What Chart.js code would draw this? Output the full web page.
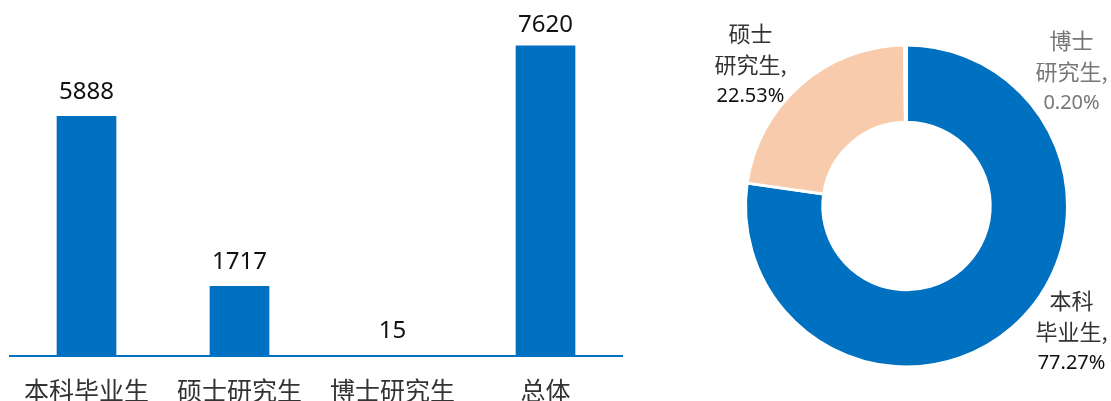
<!DOCTYPE html>
<html>
<head>
<meta charset="utf-8">
<script src="https://cdn.jsdelivr.net/npm/chart.js@4.4.0/dist/chart.umd.min.js"></script>
<style>
  html, body { margin: 0; padding: 0; background: #fff; overflow: hidden; }
  #bar { position: absolute; left: 0; top: 0; }
  #pie { position: absolute; left: 660px; top: 0; }
</style>
</head>
<body>
<canvas id="bar" width="640" height="424"></canvas>
<canvas id="pie" width="451" height="401"></canvas>
<script>
// bar chart data
const categories = ['本科毕业生', '硕士研究生', '博士研究生', '总体'];
const graduateCounts = [5888, 1717, 15, 7620];
const countAxisMax = 8000;

// doughnut data
const shareNames = [['本科', '毕业生,'], ['硕士', '研究生,'], ['博士', '研究生,']];
const sharePercents = [77.27, 22.53, 0.20];
const shareColors = ['#0070C0', '#F8CBAD', '#FFFFFF'];

const BLUE = '#0070C0';
const CJK = '"Noto Sans CJK SC", "Noto Sans", sans-serif';
const LATIN = '"Noto Sans", "Noto Sans CJK SC", sans-serif';

// numbers above each bar
const barValueLabels = {
    id: 'barValueLabels',
    afterDatasetsDraw(chart) {
        const { ctx, chartArea } = chart;
        const meta = chart.getDatasetMeta(0);
        ctx.save();
        ctx.font = '24px ' + LATIN;
        ctx.fillStyle = '#111';
        ctx.textAlign = 'center';
        ctx.textBaseline = 'alphabetic';
        meta.data.forEach((bar, i) => {
            // keep the tallest label inside the top of the plot
            const y = Math.max(bar.y - 17, chartArea.top + 2);
            ctx.fillText(String(graduateCounts[i]), bar.x, y);
        });
        ctx.restore();
    }
};

new Chart(document.getElementById('bar'), {
    type: 'bar',
    data: {
        labels: categories,
        datasets: [{
            data: graduateCounts,
            backgroundColor: BLUE,
            categoryPercentage: 1,
            barPercentage: 0.39
        }]
    },
    options: {
        responsive: false,
        animation: false,
        layout: { padding: { left: 10, right: 18, top: 30, bottom: 0 } },
        plugins: { legend: { display: false }, tooltip: { enabled: false } },
        scales: {
            x: {
                grid: { display: false, drawTicks: false },
                border: { display: true, color: BLUE, width: 2 },
                ticks: {
                    color: '#333',
                    padding: 19,
                    font: { family: CJK, size: 25, lineHeight: 1.2 }
                }
            },
            y: {
                display: false,
                min: 0,
                max: countAxisMax
            }
        }
    },
    plugins: [barValueLabels]
});

// label blocks around the ring, offsets in units of the outer radius
const labelAnchors = [[1.025, 0.783], [-0.969, -0.876], [1.025, -0.832]];
const nameColors = ['#333', '#333', '#777'];
const percentColors = ['#111', '#111', '#777'];

const ringLabels = {
    id: 'ringLabels',
    afterDatasetsDraw(chart) {
        const { ctx } = chart;
        const meta = chart.getDatasetMeta(0);
        const arc = meta.data[0];
        const cx = arc.x, cy = arc.y, r = arc.outerRadius;
        const lineGap = 31;
        ctx.save();
        ctx.textAlign = 'center';
        ctx.textBaseline = 'middle';
        sharePercents.forEach((pct, i) => {
            const ax = cx + labelAnchors[i][0] * r;
            const ay = cy + labelAnchors[i][1] * r;
            ctx.fillStyle = nameColors[i];
            ctx.font = '22px ' + CJK;
            ctx.fillText(shareNames[i][0], ax, ay - lineGap);
            ctx.fillText(shareNames[i][1], ax, ay);
            ctx.fillStyle = percentColors[i];
            ctx.font = '20px ' + LATIN;
            ctx.fillText(pct.toFixed(2) + '%', ax, ay + lineGap);
        });
        ctx.restore();
    }
};

new Chart(document.getElementById('pie'), {
    type: 'doughnut',
    data: {
        labels: shareNames.map(n => n.join('')),
        datasets: [{
            data: sharePercents,
            backgroundColor: shareColors,
            borderColor: '#fff',
            borderWidth: 3
        }]
    },
    options: {
        responsive: false,
        animation: false,
        cutout: '52%',
        layout: { padding: { left: 84, right: 42, top: 43.5, bottom: 32.5 } },
        plugins: { legend: { display: false }, tooltip: { enabled: false } }
    },
    plugins: [ringLabels]
});
</script>
</body>
</html>
